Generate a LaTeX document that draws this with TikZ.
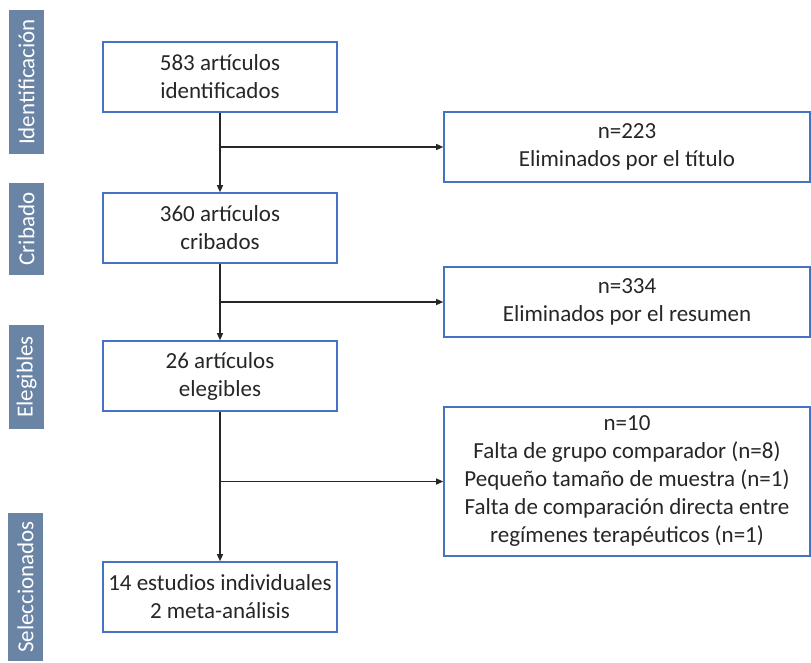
\documentclass[tikz,border=0pt]{standalone}
\usepackage{fontspec}
\setmainfont{Carlito}
\usetikzlibrary{arrows.meta}
\definecolor{boxblue}{HTML}{4472C4}
\definecolor{stagegray}{HTML}{6A84A5}
\definecolor{txtgray}{HTML}{262626}

\begin{document}
\begin{tikzpicture}[x=1pt, y=-1pt,
			box/.style={
				draw = boxblue,
				line width = 1.6pt,
				align = center,
				inner sep = 0pt,
				text = txtgray,
				font = \fontsize{23}{28}\selectfont},
			stage/.style={
				rotate = 90,
				fill = stagegray,
				text = white,
				inner sep = 0pt,
				minimum height = 35pt,
				font = \fontsize{23}{28}\selectfont},
			flow/.style={
				-{Triangle[length = 7pt, width = 6pt]},
				line width = 1.2pt,
				color = black!85}]
			\useasboundingbox (0, 0) rectangle (811, 662);
			% etapas
			\node (sid) at (26.5, 82) [stage, minimum width = 144pt] {Identificación};
			\node (scr) at (26.5, 229) [stage, minimum width = 92pt] {Cribado};
			\node (sel) at (26.5, 377) [stage, minimum width = 104pt] {Elegibles};
			\node (sinc) at (25.5, 587) [stage, minimum width = 148pt] {Seleccionados};
			% cajas principales
			\node (ident) at (220, 77) [box, minimum width = 234pt, minimum height = 70pt] {583 artículos\\identificados};
			\node (crib) at (220, 228) [box, minimum width = 234pt, minimum height = 70pt] {360 artículos\\cribados};
			\node (eleg) at (220, 376) [box, minimum width = 234pt, minimum height = 70pt] {26 artículos\\elegibles};
			\node (incl) at (220, 597) [box, minimum width = 234pt, minimum height = 70pt] {14 estudios individuales\\2 meta-análisis};
			% excluidos
			\node (tit) at (627, 147) [box, minimum width = 366pt, minimum height = 70pt] {n=223\\Eliminados por el título};
			\node (res) at (627, 302) [box, minimum width = 366pt, minimum height = 70pt] {n=334\\Eliminados por el resumen};
			\node (exc) at (627, 481.5) [box, minimum width = 366pt, minimum height = 149pt] {n=10\\Falta de grupo comparador (n=8)\\Pequeño tamaño de muestra (n=1)\\Falta de comparación directa entre\\regímenes terapéuticos (n=1)};
			% flechas
			\draw[flow] (ident) -- (crib);
			\draw[flow] (crib) -- (eleg);
			\draw[flow] (eleg) -- (incl);
			\draw[flow] (ident.south |- tit.west) -- (tit.west);
			\draw[flow] (crib.south |- res.west) -- (res.west);
			\draw[flow] (eleg.south |- exc.west) -- (exc.west);
\end{tikzpicture}
\end{document}
